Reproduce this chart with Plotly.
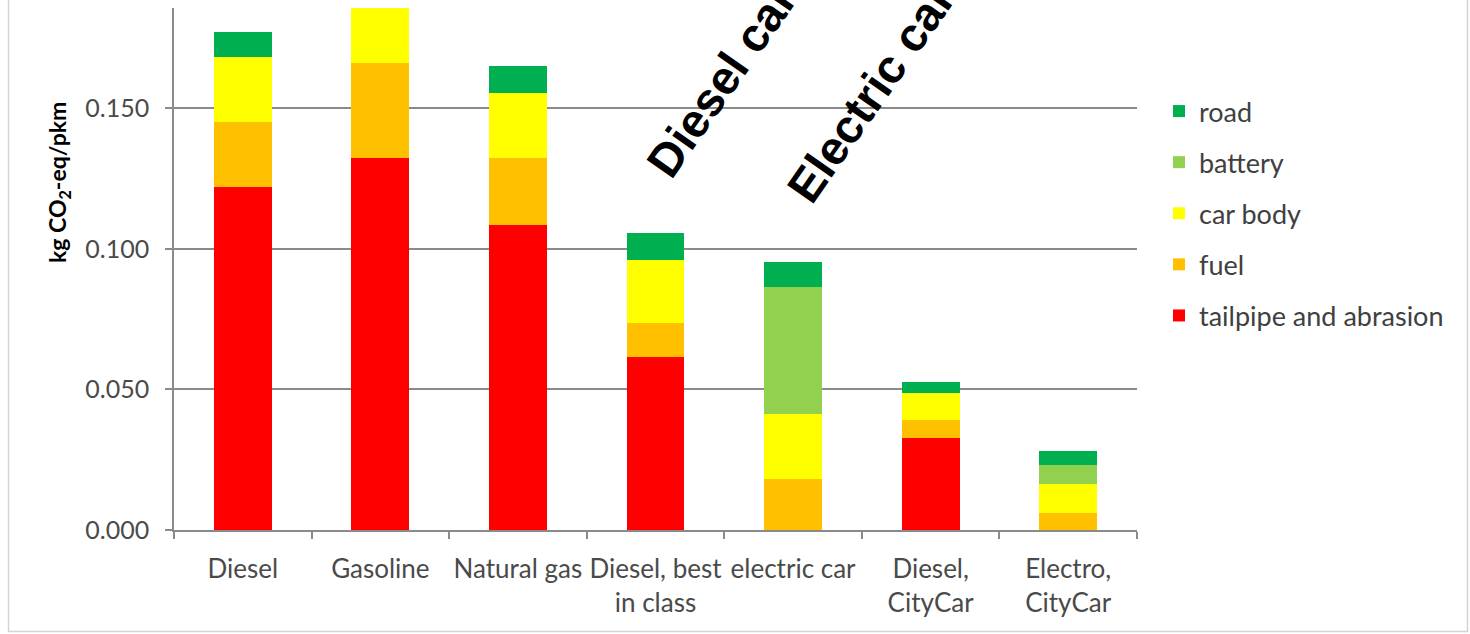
import plotly.graph_objects as go

# Life-cycle greenhouse gas emissions per passenger-km, split by source
categories = ["Diesel", "Gasoline", "Natural gas", "Diesel, best<br>in class",
              "electric car", "Diesel,<br>CityCar", "Electro,<br>CityCar"]

tailpipe = [0.1219, 0.1323, 0.1085, 0.0617, 0.0, 0.0329, 0.0]
fuel = [0.0231, 0.0338, 0.0238, 0.0119, 0.0182, 0.0061, 0.0060]
car_body = [0.0232, 0.0220, 0.0233, 0.0224, 0.0232, 0.0098, 0.0104]
battery = [0.0, 0.0, 0.0, 0.0, 0.0449, 0.0, 0.0068]
road = [0.0090, 0.0090, 0.0096, 0.0097, 0.0089, 0.0037, 0.0048]

series = [
    ("tailpipe and abrasion", tailpipe, "#FF0000"),
    ("fuel", fuel, "#FFC000"),
    ("car body", car_body, "#FFFF00"),
    ("battery", battery, "#92D050"),
    ("road", road, "#00B050"),
]

y_ticks = [0.0, 0.05, 0.10, 0.15]

FONT = "Lato"
AXIS_GRAY = "#8a8a8a"
TEXT_GRAY = "#4a4a4a"

# plot-area geometry in pixels (page is 1470 x 634)
L, R, T, B = 174, 1137, 8, 530
W, H = R - L, B - T


def px(x):
    return (x - L) / W


def py(y):
    return (B - y) / H


fig = go.Figure()
n = len(series)
for i, (name, vals, color) in enumerate(series):
    fig.add_trace(go.Bar(
        x=categories, y=vals, name=name,
        marker=dict(color=color, line=dict(width=0)),
        legendgroup=f"g{i}",
        legendrank=n - i,  # top stack segment listed first
    ))

fig.update_layout(
    barmode="stack",
    bargap=0.58,
    width=1470, height=634,
    margin=dict(l=L, r=1470 - R, t=T, b=634 - B, pad=0, autoexpand=False),
    paper_bgcolor="white",
    plot_bgcolor="white",
    font=dict(family=FONT, color=TEXT_GRAY, size=25),
    legend=dict(
        x=px(1159), y=py(87), xanchor="left", yanchor="top",
        traceorder="grouped",
        font=dict(family=FONT, size=27, color="#404040"),
        tracegroupgap=13,
        itemwidth=30,
        bgcolor="rgba(0,0,0,0)",
    ),
    xaxis=dict(
        type="category",
        range=[-0.5, 6.5],
        automargin=False,
        tickangle=0,
        showline=True, linecolor=AXIS_GRAY, linewidth=1.5,
        ticks="outside", tickson="boundaries", ticklen=7,
        tickcolor=AXIS_GRAY, tickwidth=1.5,
        tickfont=dict(family=FONT, size=26, color=TEXT_GRAY),
        ticklabelstandoff=15,
        showgrid=False,
    ),
    yaxis=dict(
        range=[0, 0.1857],
        automargin=False,
        tickvals=y_ticks,
        tickformat=".3f",
        showline=True, linecolor=AXIS_GRAY, linewidth=1.5,
        ticks="outside", ticklen=7, tickcolor=AXIS_GRAY, tickwidth=1.5,
        showgrid=True, gridcolor=AXIS_GRAY, gridwidth=1.5,
        zeroline=False,
        tickfont=dict(family=FONT, size=25, color=TEXT_GRAY),
        ticklabelstandoff=11,
    ),
    showlegend=True,
)

# y-axis title
fig.add_annotation(
    text="<b>kg CO<sub>2</sub>-eq/pkm</b>",
    xref="paper", yref="paper", x=px(58), y=py(183),
    xanchor="center", yanchor="middle",
    textangle=-90, showarrow=False,
    font=dict(family=FONT, size=23, color="#000000"),
)

# slanted group captions
for label, cx, cy in [("Diesel car", 721, 80), ("Electric car", 870, 93)]:
    fig.add_annotation(
        text=f"<b>{label}</b>",
        xref="paper", yref="paper", x=px(cx), y=py(cy),
        xanchor="center", yanchor="middle",
        textangle=-55, showarrow=False,
        font=dict(family="Liberation Sans", size=47, color="#000000"),
    )

# outer chart frame
fig.add_shape(
    type="rect", xref="paper", yref="paper",
    x0=px(8.5), x1=px(1467.5), y0=py(631.5), y1=py(-20),
    line=dict(color="#d4d4d4", width=1.5),
    fillcolor="rgba(0,0,0,0)", layer="below",
)

fig.write_html("out.html")
